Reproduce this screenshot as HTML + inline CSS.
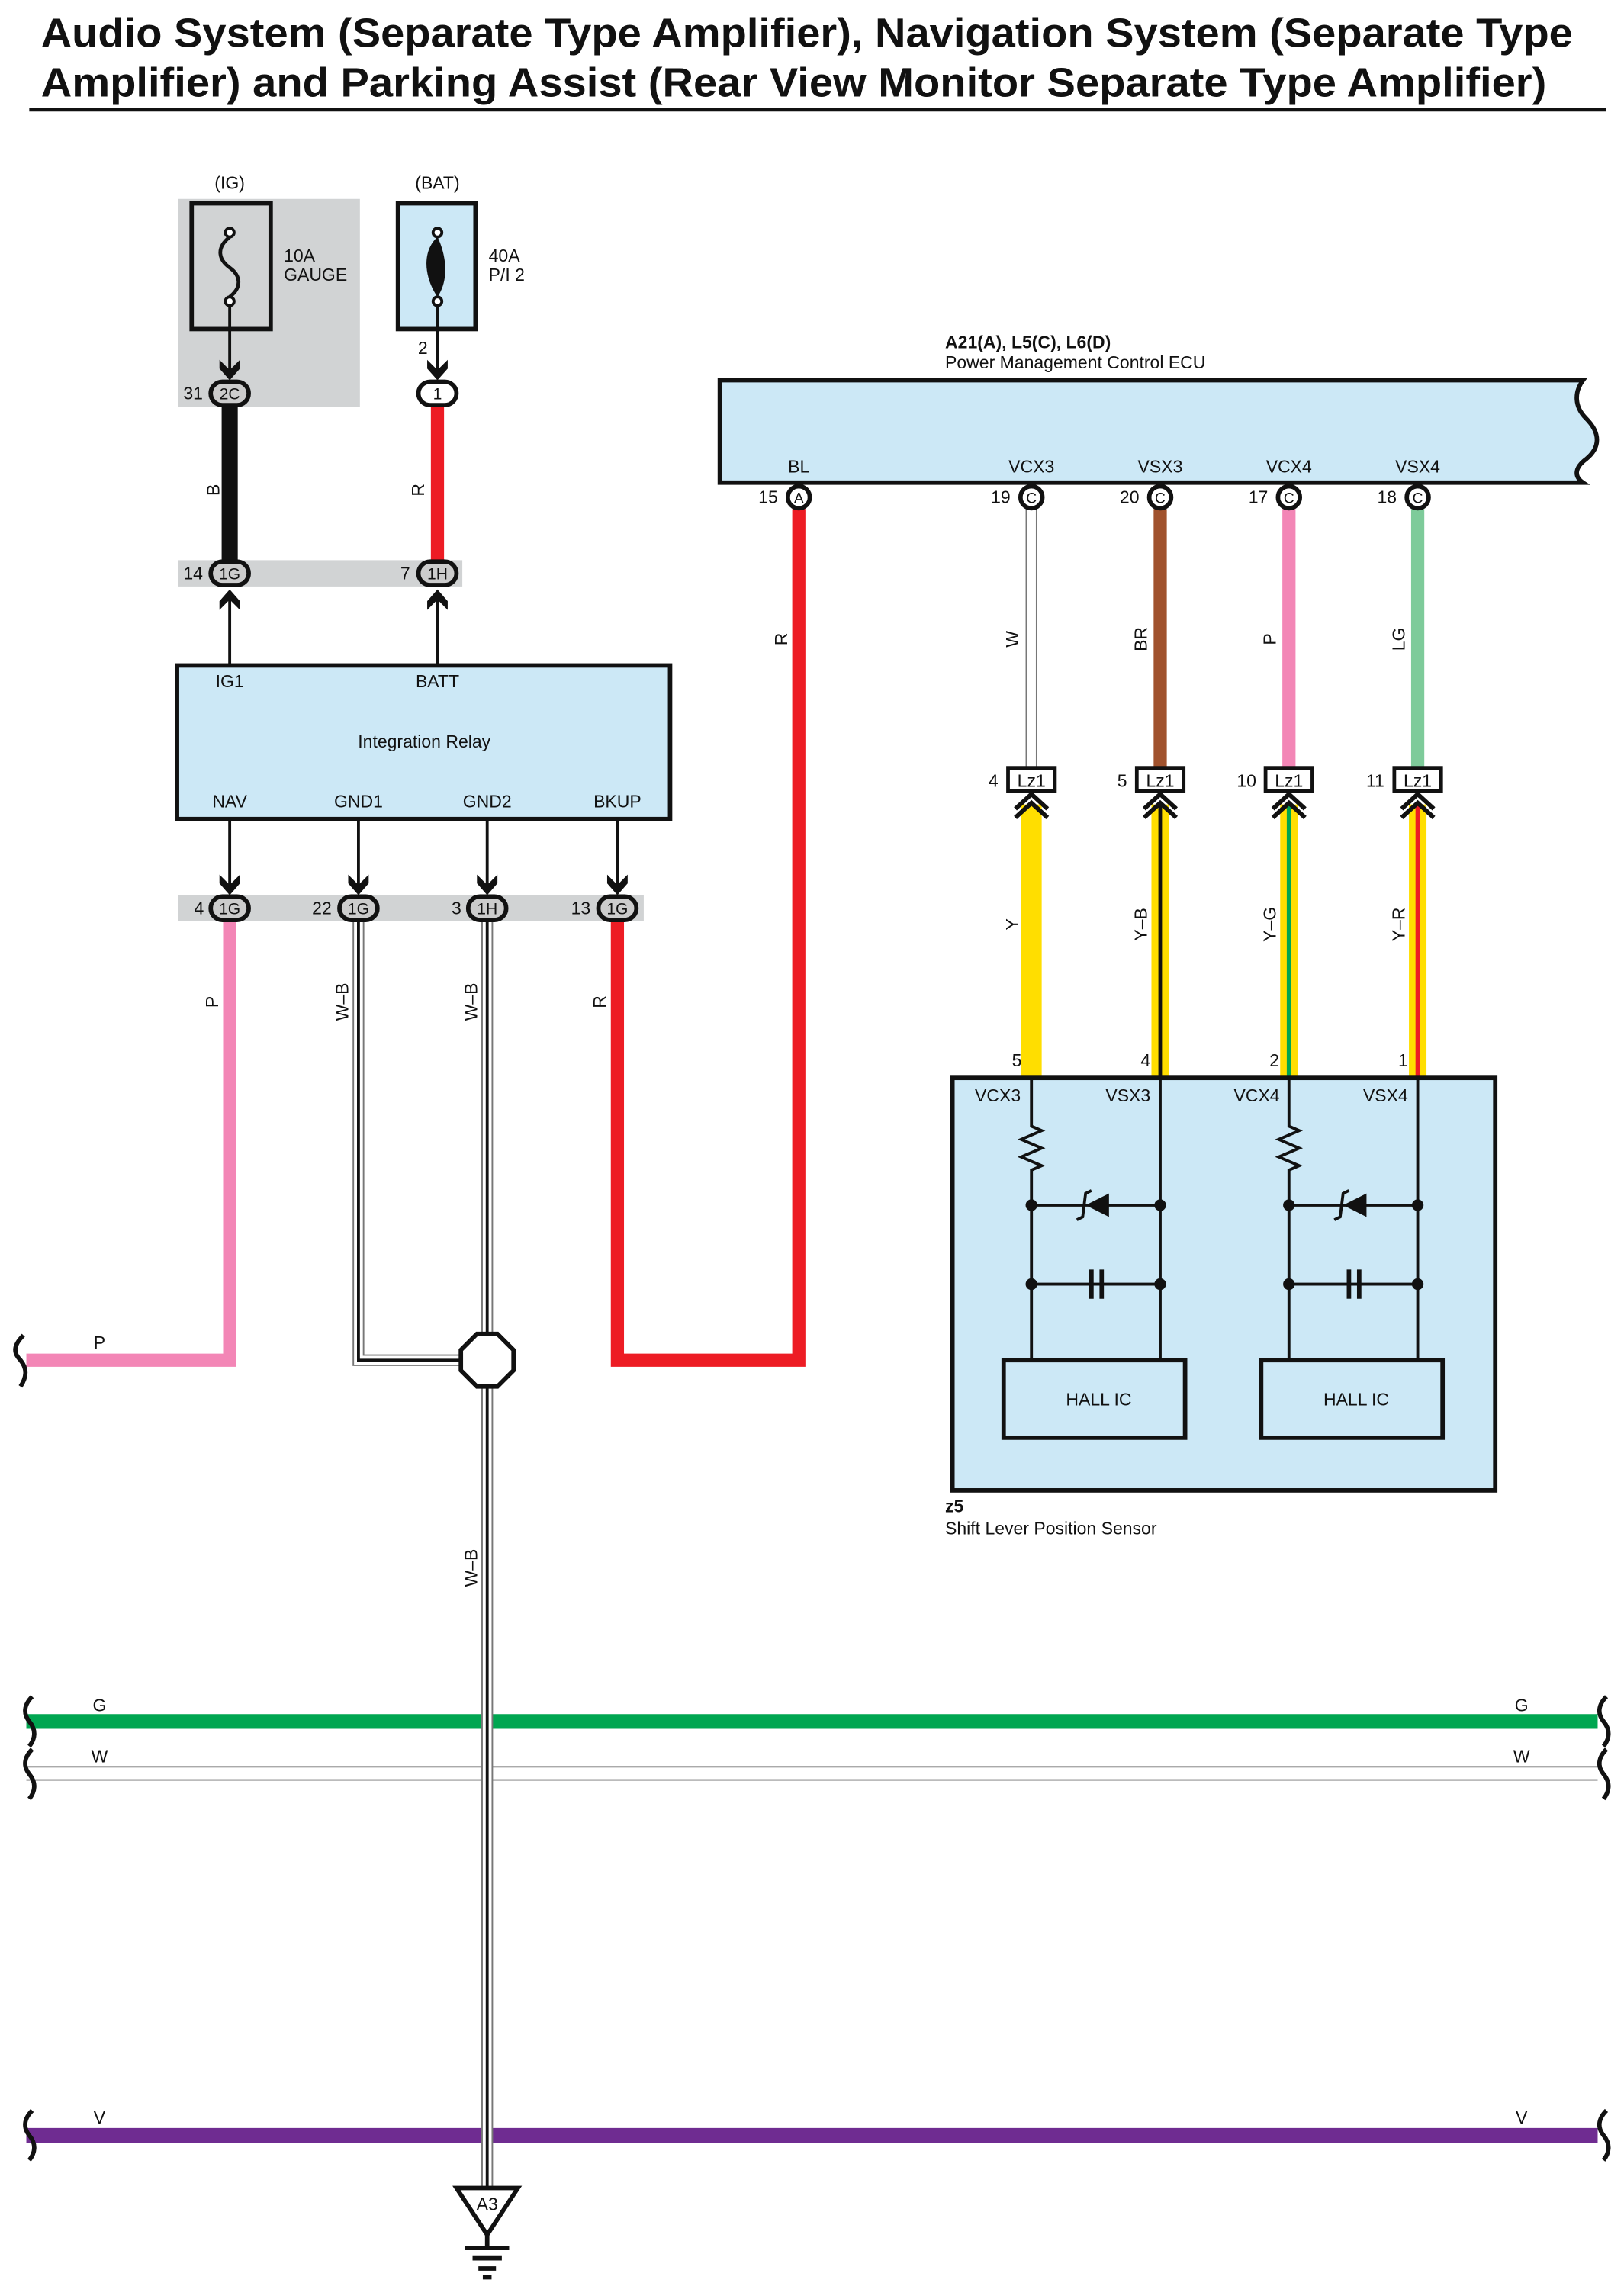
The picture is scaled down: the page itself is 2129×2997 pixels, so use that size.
<!DOCTYPE html>
<html><head><meta charset="utf-8"><style>
html,body{margin:0;padding:0;background:#fff}
svg{display:block}
text{font-family:"Liberation Sans",sans-serif;fill:#111}
</style></head><body>
<svg width="2129" height="2997" viewBox="0 0 1110 1563" preserveAspectRatio="none" xmlns="http://www.w3.org/2000/svg">
<defs>
<g id="conn"><rect x="-13" y="-8" width="26" height="16" rx="8" fill="#ccc" stroke="#111" stroke-width="3"/></g>
<g id="connw"><rect x="-13" y="-8" width="26" height="16" rx="8" fill="#fff" stroke="#111" stroke-width="3"/></g>
<g id="connc"><circle r="7.5" fill="#fff" stroke="#111" stroke-width="3"/></g>
<g id="adown"><path d="M-7,-12 L0,-5 L7,-12 L7,-6 L0,2 L-7,-6Z" fill="#111"/></g>
<g id="chev"><path d="M-11,8 L0,-2 L11,8 M-11,14 L0,4 L11,14" fill="none" stroke="#111" stroke-width="3"/></g>
<g id="lz"><rect x="-16" y="-8" width="32" height="16" fill="#fff" stroke="#111" stroke-width="2.5"/><text x="0" y="5" font-size="12" text-anchor="middle">Lz1</text></g>
</defs>
<text x="28" y="32" font-size="28" font-weight="bold" textLength="1047" lengthAdjust="spacingAndGlyphs">Audio System (Separate Type Amplifier), Navigation System (Separate Type</text>
<text x="28" y="66" font-size="28" font-weight="bold" textLength="1029" lengthAdjust="spacingAndGlyphs">Amplifier) and Parking Assist (Rear View Monitor Separate Type Amplifier)</text>
<line x1="20" y1="75" x2="1098" y2="75" stroke="#111" stroke-width="2.5"/>

<!-- fuses -->
<rect x="122" y="136" width="124" height="142" fill="#d1d3d4"/>
<text x="157" y="129" font-size="12" text-anchor="middle">(IG)</text>
<rect x="131" y="139" width="54" height="86" fill="#d1d3d4" stroke="#111" stroke-width="3"/>
<circle cx="157" cy="159" r="3" fill="#fff" stroke="#111" stroke-width="2"/>
<circle cx="157" cy="206" r="3" fill="#fff" stroke="#111" stroke-width="2"/>
<path d="M157,162 C147,170 150,178 157,183 C164,188 166,196 157,203" fill="none" stroke="#111" stroke-width="2.5"/>
<text x="194" y="179" font-size="12">10A</text><text x="194" y="192" font-size="12">GAUGE</text>
<text x="299" y="129" font-size="12" text-anchor="middle">(BAT)</text>
<rect x="272" y="139" width="53" height="86" fill="#cce8f6" stroke="#111" stroke-width="3"/>
<circle cx="299" cy="159" r="3" fill="#fff" stroke="#111" stroke-width="2"/>
<circle cx="299" cy="206" r="3" fill="#fff" stroke="#111" stroke-width="2"/>
<path d="M299,162 C288,172 290,190 299,203 C308,190 304,172 299,162Z" fill="#111"/>
<text x="334" y="179" font-size="12">40A</text><text x="334" y="192" font-size="12">P/I 2</text>
<line x1="157" y1="209" x2="157" y2="258" stroke="#111" stroke-width="2"/>
<line x1="299" y1="209" x2="299" y2="258" stroke="#111" stroke-width="2"/>
<text x="289" y="242" font-size="12" text-anchor="middle">2</text>
<use href="#adown" x="157" y="258"/><use href="#adown" x="299" y="258"/>
<line x1="157" y1="276" x2="157" y2="386" stroke="#111" stroke-width="11"/>
<line x1="299" y1="276" x2="299" y2="386" stroke="#ed1c24" stroke-width="9"/>
<use href="#conn" x="157" y="269"/><text x="157" y="273" font-size="11" text-anchor="middle">2C</text>
<text x="132" y="273" font-size="12" text-anchor="middle">31</text>
<use href="#connw" x="299" y="269"/><text x="299" y="273" font-size="11" text-anchor="middle">1</text>
<text x="150" y="335" font-size="12" transform="rotate(-90 150 335)" text-anchor="middle">B</text>
<text x="290" y="335" font-size="12" transform="rotate(-90 290 335)" text-anchor="middle">R</text>
<rect x="122" y="383" width="194" height="18" fill="#d1d3d4"/>
<use href="#conn" x="157" y="392"/><text x="157" y="396" font-size="11" text-anchor="middle">1G</text><text x="132" y="396" font-size="12" text-anchor="middle">14</text>
<use href="#conn" x="299" y="392"/><text x="299" y="396" font-size="11" text-anchor="middle">1H</text><text x="277" y="396" font-size="12" text-anchor="middle">7</text>
<line x1="157" y1="405" x2="157" y2="455" stroke="#111" stroke-width="2"/>
<line x1="299" y1="405" x2="299" y2="455" stroke="#111" stroke-width="2"/>
<use href="#adown" x="157" y="413" transform="rotate(180 157 409)"/>
<use href="#adown" x="299" y="413" transform="rotate(180 299 409)"/>

<!-- relay -->
<rect x="121" y="455" width="337" height="105" fill="#cce8f6" stroke="#111" stroke-width="3"/>
<text x="157" y="470" font-size="12" text-anchor="middle">IG1</text>
<text x="299" y="470" font-size="12" text-anchor="middle">BATT</text>
<text x="290" y="511" font-size="12" text-anchor="middle">Integration Relay</text>
<text x="157" y="552" font-size="12" text-anchor="middle">NAV</text>
<text x="245" y="552" font-size="12" text-anchor="middle">GND1</text>
<text x="333" y="552" font-size="12" text-anchor="middle">GND2</text>
<text x="422" y="552" font-size="12" text-anchor="middle">BKUP</text>
<g stroke="#111" stroke-width="2"><line x1="157" y1="560" x2="157" y2="610"/><line x1="245" y1="560" x2="245" y2="610"/><line x1="333" y1="560" x2="333" y2="610"/><line x1="422" y1="560" x2="422" y2="610"/></g>
<use href="#adown" x="157" y="610"/><use href="#adown" x="245" y="610"/><use href="#adown" x="333" y="610"/><use href="#adown" x="422" y="610"/>

<!-- lower wires -->
<path d="M157,628 V930 H18" fill="none" stroke="#f386b6" stroke-width="9"/>
<path d="M422,628 V930 H546 V348" fill="none" stroke="#ed1c24" stroke-width="9"/>
<path d="M245,628 V930 H333" fill="none" stroke="#777" stroke-width="8"/>
<path d="M245,628 V930 H333" fill="none" stroke="#fff" stroke-width="6"/>
<path d="M245,628 V930 H333" fill="none" stroke="#111" stroke-width="2"/>
<text x="149" y="685" font-size="12" transform="rotate(-90 149 685)" text-anchor="middle">P</text>
<text x="238" y="685" font-size="12" transform="rotate(-90 238 685)" text-anchor="middle">W–B</text>
<text x="326" y="685" font-size="12" transform="rotate(-90 326 685)" text-anchor="middle">W–B</text>
<text x="414" y="685" font-size="12" transform="rotate(-90 414 685)" text-anchor="middle">R</text>
<text x="538" y="437" font-size="12" transform="rotate(-90 538 437)" text-anchor="middle">R</text>
<text x="68" y="922" font-size="12" text-anchor="middle">P</text>
<path d="M16,913 C9,920 9,925 14,930 C19,936 18,942 14,948" fill="none" stroke="#111" stroke-width="3"/>

<!-- buses -->
<line x1="18" y1="1177" x2="1092" y2="1177" stroke="#00a651" stroke-width="10"/>
<line x1="18" y1="1208" x2="1092" y2="1208" stroke="#777" stroke-width="1"/>
<line x1="18" y1="1217" x2="1092" y2="1217" stroke="#777" stroke-width="1"/>
<line x1="18" y1="1460" x2="1092" y2="1460" stroke="#6f2c91" stroke-width="10"/>
<text x="68" y="1170" font-size="12" text-anchor="middle">G</text><text x="1040" y="1170" font-size="12" text-anchor="middle">G</text>
<text x="68" y="1205" font-size="12" text-anchor="middle">W</text><text x="1040" y="1205" font-size="12" text-anchor="middle">W</text>
<text x="68" y="1452" font-size="12" text-anchor="middle">V</text><text x="1040" y="1452" font-size="12" text-anchor="middle">V</text>
<g fill="none" stroke="#111" stroke-width="3">
<path d="M22,1160 C16,1166 16,1172 20,1177 C25,1183 24,1189 20,1194"/>
<path d="M22,1196 C16,1202 16,1208 20,1213 C25,1219 24,1225 20,1230"/>
<path d="M22,1443 C16,1449 16,1455 20,1460 C25,1466 24,1472 20,1477"/>
<path d="M1098,1160 C1092,1166 1092,1172 1096,1177 C1101,1183 1100,1189 1096,1194"/>
<path d="M1098,1196 C1092,1202 1092,1208 1096,1213 C1101,1219 1100,1225 1096,1230"/>
<path d="M1098,1443 C1092,1449 1092,1455 1096,1460 C1101,1466 1100,1472 1096,1477"/>
</g>

<!-- W-B vertical -->
<line x1="333" y1="628" x2="333" y2="1496" stroke="#777" stroke-width="8"/>
<line x1="333" y1="628" x2="333" y2="1496" stroke="#fff" stroke-width="6"/>
<line x1="333" y1="628" x2="333" y2="1496" stroke="#111" stroke-width="2"/>
<text x="326" y="1072" font-size="12" transform="rotate(-90 326 1072)" text-anchor="middle">W–B</text>
<polygon points="326,912 340,912 351,923 351,937 340,948 326,948 315,937 315,923" fill="#fff" stroke="#111" stroke-width="3"/>
<polygon points="312,1496 354,1496 333,1528" fill="#fff" stroke="#111" stroke-width="3"/>
<text x="333" y="1511" font-size="12" text-anchor="middle">A3</text>
<g stroke="#111" stroke-width="3"><line x1="333" y1="1528" x2="333" y2="1536"/><line x1="318" y1="1537" x2="348" y2="1537"/><line x1="323" y1="1544" x2="343" y2="1544"/><line x1="327" y1="1551" x2="339" y2="1551"/><line x1="330" y1="1557" x2="336" y2="1557"/></g>

<!-- connectors lower row -->
<rect x="122" y="612" width="318" height="18" fill="#d1d3d4"/>
<use href="#conn" x="157" y="621"/><text x="157" y="625" font-size="11" text-anchor="middle">1G</text><text x="136" y="625" font-size="12" text-anchor="middle">4</text>
<use href="#conn" x="245" y="621"/><text x="245" y="625" font-size="11" text-anchor="middle">1G</text><text x="220" y="625" font-size="12" text-anchor="middle">22</text>
<use href="#conn" x="333" y="621"/><text x="333" y="625" font-size="11" text-anchor="middle">1H</text><text x="312" y="625" font-size="12" text-anchor="middle">3</text>
<use href="#conn" x="422" y="621"/><text x="422" y="625" font-size="11" text-anchor="middle">1G</text><text x="397" y="625" font-size="12" text-anchor="middle">13</text>

<!-- ECU -->
<text x="646" y="238" font-size="12" font-weight="bold">A21(A), L5(C), L6(D)</text>
<text x="646" y="252" font-size="12">Power Management Control ECU</text>
<path d="M492,260 H1082 C1076,268 1076,278 1084,286 C1094,296 1094,306 1084,314 C1076,320 1076,326 1082,330 H492Z" fill="#cce8f6" stroke="#111" stroke-width="3"/>
<text x="546" y="323" font-size="12" text-anchor="middle">BL</text>
<text x="705" y="323" font-size="12" text-anchor="middle">VCX3</text>
<text x="793" y="323" font-size="12" text-anchor="middle">VSX3</text>
<text x="881" y="323" font-size="12" text-anchor="middle">VCX4</text>
<text x="969" y="323" font-size="12" text-anchor="middle">VSX4</text>
<line x1="705" y1="348" x2="705" y2="525" stroke="#777" stroke-width="8"/>
<line x1="705" y1="348" x2="705" y2="525" stroke="#fff" stroke-width="6"/>
<line x1="793" y1="348" x2="793" y2="525" stroke="#a0522d" stroke-width="9"/>
<line x1="881" y1="348" x2="881" y2="525" stroke="#f386b6" stroke-width="9"/>
<line x1="969" y1="348" x2="969" y2="525" stroke="#7ecb9a" stroke-width="9"/>
<use href="#connc" x="546" y="340"/><text x="546" y="344" font-size="10" text-anchor="middle">A</text><text x="525" y="344" font-size="12" text-anchor="middle">15</text>
<use href="#connc" x="705" y="340"/><text x="705" y="344" font-size="10" text-anchor="middle">C</text><text x="684" y="344" font-size="12" text-anchor="middle">19</text>
<use href="#connc" x="793" y="340"/><text x="793" y="344" font-size="10" text-anchor="middle">C</text><text x="772" y="344" font-size="12" text-anchor="middle">20</text>
<use href="#connc" x="881" y="340"/><text x="881" y="344" font-size="10" text-anchor="middle">C</text><text x="860" y="344" font-size="12" text-anchor="middle">17</text>
<use href="#connc" x="969" y="340"/><text x="969" y="344" font-size="10" text-anchor="middle">C</text><text x="948" y="344" font-size="12" text-anchor="middle">18</text>
<text x="696" y="437" font-size="12" transform="rotate(-90 696 437)" text-anchor="middle">W</text>
<text x="784" y="437" font-size="12" transform="rotate(-90 784 437)" text-anchor="middle">BR</text>
<text x="872" y="437" font-size="12" transform="rotate(-90 872 437)" text-anchor="middle">P</text>
<text x="960" y="437" font-size="12" transform="rotate(-90 960 437)" text-anchor="middle">LG</text>

<!-- lower sensor wires -->
<line x1="705" y1="550" x2="705" y2="737" stroke="#ffde00" stroke-width="14"/>
<line x1="793" y1="550" x2="793" y2="737" stroke="#ffde00" stroke-width="12"/>
<line x1="793" y1="550" x2="793" y2="737" stroke="#111" stroke-width="2.5"/>
<line x1="881" y1="550" x2="881" y2="737" stroke="#ffde00" stroke-width="12"/>
<line x1="881" y1="550" x2="881" y2="737" stroke="#00a651" stroke-width="3"/>
<line x1="969" y1="550" x2="969" y2="737" stroke="#ffde00" stroke-width="12"/>
<line x1="969" y1="550" x2="969" y2="737" stroke="#ed1c24" stroke-width="3"/>
<use href="#chev" x="705" y="545"/><use href="#chev" x="793" y="545"/><use href="#chev" x="881" y="545"/><use href="#chev" x="969" y="545"/>
<use href="#lz" x="705" y="533"/><text x="679" y="538" font-size="12" text-anchor="middle">4</text>
<use href="#lz" x="793" y="533"/><text x="767" y="538" font-size="12" text-anchor="middle">5</text>
<use href="#lz" x="881" y="533"/><text x="852" y="538" font-size="12" text-anchor="middle">10</text>
<use href="#lz" x="969" y="533"/><text x="940" y="538" font-size="12" text-anchor="middle">11</text>
<text x="696" y="632" font-size="12" transform="rotate(-90 696 632)" text-anchor="middle">Y</text>
<text x="784" y="632" font-size="12" transform="rotate(-90 784 632)" text-anchor="middle">Y–B</text>
<text x="872" y="632" font-size="12" transform="rotate(-90 872 632)" text-anchor="middle">Y–G</text>
<text x="960" y="632" font-size="12" transform="rotate(-90 960 632)" text-anchor="middle">Y–R</text>
<text x="695" y="729" font-size="12" text-anchor="middle">5</text>
<text x="783" y="729" font-size="12" text-anchor="middle">4</text>
<text x="871" y="729" font-size="12" text-anchor="middle">2</text>
<text x="959" y="729" font-size="12" text-anchor="middle">1</text>

<!-- sensor -->
<rect x="651" y="737" width="371" height="282" fill="#cce8f6" stroke="#111" stroke-width="3"/>
<text x="682" y="753" font-size="12" text-anchor="middle">VCX3</text>
<text x="771" y="753" font-size="12" text-anchor="middle">VSX3</text>
<text x="859" y="753" font-size="12" text-anchor="middle">VCX4</text>
<text x="947" y="753" font-size="12" text-anchor="middle">VSX4</text>
<g id="sub" fill="none" stroke="#111" stroke-width="2">
<path d="M705,737 V770 L712,773 L698,779 L712,785 L698,791 L712,797 L705,800 V930"/>
<line x1="793" y1="737" x2="793" y2="930"/>
<line x1="705" y1="824" x2="793" y2="824"/>
<line x1="705" y1="878" x2="793" y2="878"/>
<polygon points="758,816 758,832 742,824" fill="#111" stroke="none"/>
<path d="M736,834 L740,832 L742,816 L746,814"/>
<line x1="746" y1="868" x2="746" y2="888" stroke-width="3"/>
<line x1="753" y1="868" x2="753" y2="888" stroke-width="3"/>
<circle cx="705" cy="824" r="3" fill="#111"/><circle cx="793" cy="824" r="3" fill="#111"/>
<circle cx="705" cy="878" r="3" fill="#111"/><circle cx="793" cy="878" r="3" fill="#111"/>
<rect x="686" y="930" width="124" height="53" stroke-width="3"/>
</g>
<use href="#sub" x="176" y="0"/>
<text x="751" y="961" font-size="12" text-anchor="middle">HALL IC</text>
<text x="927" y="961" font-size="12" text-anchor="middle">HALL IC</text>
<text x="646" y="1034" font-size="12" font-weight="bold">z5</text>
<text x="646" y="1049" font-size="12">Shift Lever Position Sensor</text>
</svg>
</body></html>
